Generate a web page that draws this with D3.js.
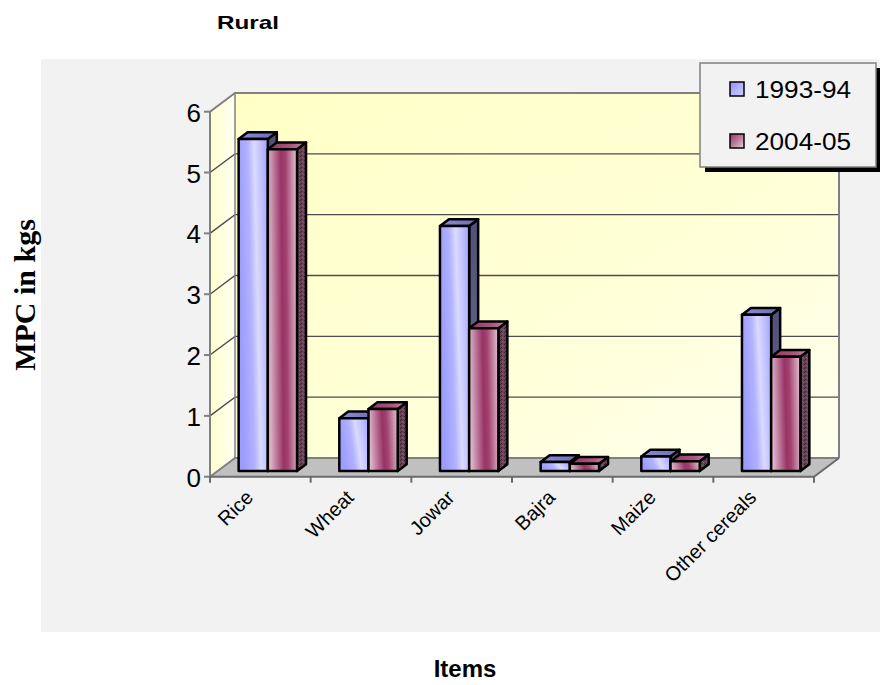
<!DOCTYPE html>
<html>
<head>
<meta charset="utf-8">
<script src="https://cdn.jsdelivr.net/npm/d3@7"></script>
<style>
  html, body { margin: 0; padding: 0; background: #ffffff; }
  svg { display: block; }
</style>
</head>
<body>
<div id="chart"></div>
<script>
// Monthly per-capita consumption of cereals, rural households
const categories = ["Rice", "Wheat", "Jowar", "Bajra", "Maize", "Other cereals"];
const seriesNames = ["1993-94", "2004-05"];
const values1993 = [5.46, 0.87, 4.03, 0.15, 0.24, 2.57];
const values2004 = [5.29, 1.02, 2.35, 0.12, 0.16, 1.88];
const yTicks = [0, 1, 2, 3, 4, 5, 6];

const W = 880, H = 685;
const svg = d3.select("#chart").append("svg").attr("width", W).attr("height", H);
const defs = svg.append("defs");

// 3-D projection: depth runs up and to the right
const DX = 25, DY = -18.7;
const barFront = 0.30, barBack = 0.66;

const x = d3.scaleBand().domain(categories).range([210, 814]);
const inner = d3.scaleBand().domain(seriesNames)
  .range([x.bandwidth() * 0.21, x.bandwidth() * 0.79]);
const y = d3.scaleLinear().domain([0, 6]).range([476.7, 111.7]);

const shift = (p, d) => [p[0] + DX * d, p[1] + DY * d];
const poly = pts => pts.map(p => p.join(",")).join(" ");

// ---- gradients and textures ----
function linGrad(id, x1, y1, x2, y2, stops) {
  const g = defs.append("linearGradient").attr("id", id)
    .attr("x1", x1).attr("y1", y1).attr("x2", x2).attr("y2", y2);
  stops.forEach(s => g.append("stop").attr("offset", s[0]).attr("stop-color", s[1]));
}
linGrad("backWall", 0, 0, 1, 1, [[0, "#ffffc6"], [0.6, "#ffffd8"], [1, "#fffff0"]]);
linGrad("sideWall", 0, 0, 1, 0, [[0, "#ffffcc"], [1, "#fffff4"]]);
linGrad("blueFront", 0, 0.25, 1, 0, [[0, "#9c9cff"], [0.35, "#b2b2ff"], [0.55, "#dadaff"], [0.75, "#c2c2ff"], [1, "#a2a2ff"]]);
linGrad("blueTop", 0, 0, 1, 0, [[0, "#8c8cd8"], [1, "#6c6cb0"]]);
linGrad("blueSide", 0, 0, 0, 1, [[0, "#505078"], [1, "#707095"]]);
linGrad("maroonFront", 0, 0.1, 1, 0, [[0, "#dcb6c9"], [0.45, "#993366"], [0.6, "#a2416f"], [1, "#e4c8d6"]]);
linGrad("maroonTop", 0, 0, 1, 0, [[0, "#8f3a62"], [0.6, "#a9557c"], [1, "#c98fab"]]);
linGrad("blueKey", 0, 0, 1, 1, [[0, "#8f8fff"], [0.6, "#b8b8ff"], [1, "#c8c8ff"]]);
linGrad("maroonKey", 0, 0, 1, 1, [[0, "#993366"], [0.6, "#c48aa6"], [1, "#ead4df"]]);

const speck = defs.append("pattern").attr("id", "maroonSide")
  .attr("patternUnits", "userSpaceOnUse").attr("width", 4).attr("height", 4);
speck.append("rect").attr("width", 4).attr("height", 4).attr("fill", "#6a4257");
speck.append("rect").attr("x", 0).attr("y", 0).attr("width", 1).attr("height", 1).attr("fill", "#3a2230");
speck.append("rect").attr("x", 2).attr("y", 1).attr("width", 1).attr("height", 1).attr("fill", "#8a6277");
speck.append("rect").attr("x", 1).attr("y", 3).attr("width", 1).attr("height", 1).attr("fill", "#3a2230");
speck.append("rect").attr("x", 3).attr("y", 2).attr("width", 1).attr("height", 1).attr("fill", "#85566c");

// ---- plot panel ----
svg.append("rect").attr("x", 41).attr("y", 59).attr("width", W - 41).attr("height", 632 - 59)
  .attr("fill", "#f2f2f2");

const x0 = x.range()[0], x1 = x.range()[1];
const yTop = y(6), yBase = y(0);

// side wall
svg.append("polygon").attr("fill", "url(#sideWall)")
  .attr("points", poly([[x0, yTop], shift([x0, yTop], 1), shift([x0, yBase], 1), [x0, yBase]]));
// back wall
svg.append("polygon").attr("fill", "url(#backWall)")
  .attr("points", poly([shift([x0, yTop], 1), shift([x1, yTop], 1), shift([x1, yBase], 1), shift([x0, yBase], 1)]));
// floor
svg.append("polygon").attr("fill", "#c0c0c0")
  .attr("points", poly([[x0, yBase], [x1, yBase], shift([x1, yBase], 1), shift([x0, yBase], 1)]));

// gridlines on the walls
const grid = svg.append("g").attr("fill", "none");
yTicks.filter(v => v > 0 && v < 6).forEach(v => {
  const p = [x0, y(v)];
  grid.append("polyline").attr("stroke", "#4d4d4d").attr("stroke-width", 1.4)
    .attr("points", poly([p, shift(p, 1), shift([x1, y(v)], 1)]));
});

// wall edges
const edge = svg.append("g").attr("fill", "none").attr("stroke", "#808080").attr("stroke-width", 2);
edge.append("polyline").attr("points", poly([[x0, yBase], [x0, yTop], shift([x0, yTop], 1), shift([x1, yTop], 1), shift([x1, yBase], 1)]));
edge.append("line").attr("x1", shift([x0, yTop], 1)[0]).attr("y1", shift([x0, yTop], 1)[1])
  .attr("x2", shift([x0, yBase], 1)[0]).attr("y2", shift([x0, yBase], 1)[1]).attr("stroke-width", 1.5);
edge.append("polyline").attr("points", poly([[x0, yBase], shift([x0, yBase], 1), shift([x1, yBase], 1)]));
edge.append("polyline").attr("stroke", "#6b6b6b")
  .attr("points", poly([[x0, yBase], [x1, yBase], shift([x1, yBase], 1)]));

// y-axis ticks and labels
const yAxis = svg.append("g");
yTicks.forEach(v => {
  yAxis.append("line").attr("x1", x0 - 6).attr("x2", x0).attr("y1", y(v)).attr("y2", y(v))
    .attr("stroke", "#808080").attr("stroke-width", 2);
  yAxis.append("text").attr("x", x0 - 9).attr("y", y(v) + 1)
    .attr("text-anchor", "end").attr("dominant-baseline", "central")
    .attr("font-family", "Liberation Sans, Arial, sans-serif").attr("font-size", 26)
    .attr("fill", "#000").text(v);
});

// x-axis ticks
const xTicks = categories.map(c => x(c)).concat([x1]);
xTicks.forEach(t => {
  svg.append("line").attr("x1", t).attr("x2", t).attr("y1", yBase).attr("y2", yBase + 6)
    .attr("stroke", "#6b6b6b").attr("stroke-width", 2);
});

// ---- bars ----
const data = categories.map((c, i) => ({ cat: c, vals: [values1993[i], values2004[i]] }));
const styles = [
  { front: "url(#blueFront)", top: "url(#blueTop)", side: "url(#blueSide)" },
  { front: "url(#maroonFront)", top: "url(#maroonTop)", side: "url(#maroonSide)" }
];
const bars = svg.append("g").attr("stroke", "#000").attr("stroke-width", 2.5).attr("stroke-linejoin", "round");
data.forEach(d => {
  seriesNames.forEach((s, k) => {
    const v = d.vals[k];
    const left = x(d.cat) + inner(s), right = left + inner.bandwidth();
    const fBL = shift([left, y(0)], barFront), fBR = shift([right, y(0)], barFront);
    const fTL = shift([left, y(v)], barFront), fTR = shift([right, y(v)], barFront);
    const bTL = shift([left, y(v)], barBack), bTR = shift([right, y(v)], barBack);
    const bBR = shift([right, y(0)], barBack);
    const g = bars.append("g");
    g.append("polygon").attr("fill", styles[k].side).attr("points", poly([fTR, bTR, bBR, fBR]));
    g.append("polygon").attr("fill", styles[k].top).attr("points", poly([fTL, bTL, bTR, fTR]));
    g.append("polygon").attr("fill", styles[k].front).attr("points", poly([fTL, fTR, fBR, fBL]));
  });
});

// category labels
data.forEach(d => {
  const cx = x(d.cat) + x.bandwidth() / 2;
  svg.append("text")
    .attr("transform", `translate(${cx - 6},${yBase + 22}) rotate(-45)`)
    .attr("text-anchor", "end")
    .attr("font-family", "Liberation Sans, Arial, sans-serif").attr("font-size", 20)
    .attr("fill", "#000").text(d.cat);
});

// ---- legend ----
const lg = svg.append("g");
lg.append("rect").attr("x", 705).attr("y", 68).attr("width", 176).attr("height", 104).attr("fill", "#000");
lg.append("rect").attr("x", 700).attr("y", 63).attr("width", 176).attr("height", 104)
  .attr("fill", "#f2f2f2").attr("stroke", "#808080").attr("stroke-width", 1.5);
seriesNames.forEach((s, k) => {
  const ly = 89 + k * 52;
  lg.append("rect").attr("x", 730).attr("y", ly - 7).attr("width", 14).attr("height", 14)
    .attr("fill", k === 0 ? "url(#blueKey)" : "url(#maroonKey)")
    .attr("stroke", "#000").attr("stroke-width", 1.5);
  lg.append("text").attr("x", 755).attr("y", ly + 1).attr("dominant-baseline", "central")
    .attr("font-family", "Liberation Sans, Arial, sans-serif").attr("font-size", 23)
    .attr("textLength", 96).attr("lengthAdjust", "spacingAndGlyphs")
    .attr("fill", "#000").text(s);
});

// ---- titles ----
svg.append("text").attr("x", 217).attr("y", 28.5)
  .attr("font-family", "Liberation Sans, Arial, sans-serif").attr("font-weight", "bold")
  .attr("font-size", 19).attr("textLength", 62).attr("lengthAdjust", "spacingAndGlyphs")
  .text("Rural");
svg.append("text").attr("x", 465).attr("y", 677).attr("text-anchor", "middle")
  .attr("font-family", "Liberation Sans, Arial, sans-serif").attr("font-weight", "bold")
  .attr("font-size", 24).text("Items");
svg.append("text").attr("transform", "translate(35,295) rotate(-90)").attr("text-anchor", "middle")
  .attr("font-family", "Liberation Serif, Times New Roman, serif").attr("font-weight", "bold")
  .attr("font-size", 30).text("MPC in kgs");
</script>
</body>
</html>
